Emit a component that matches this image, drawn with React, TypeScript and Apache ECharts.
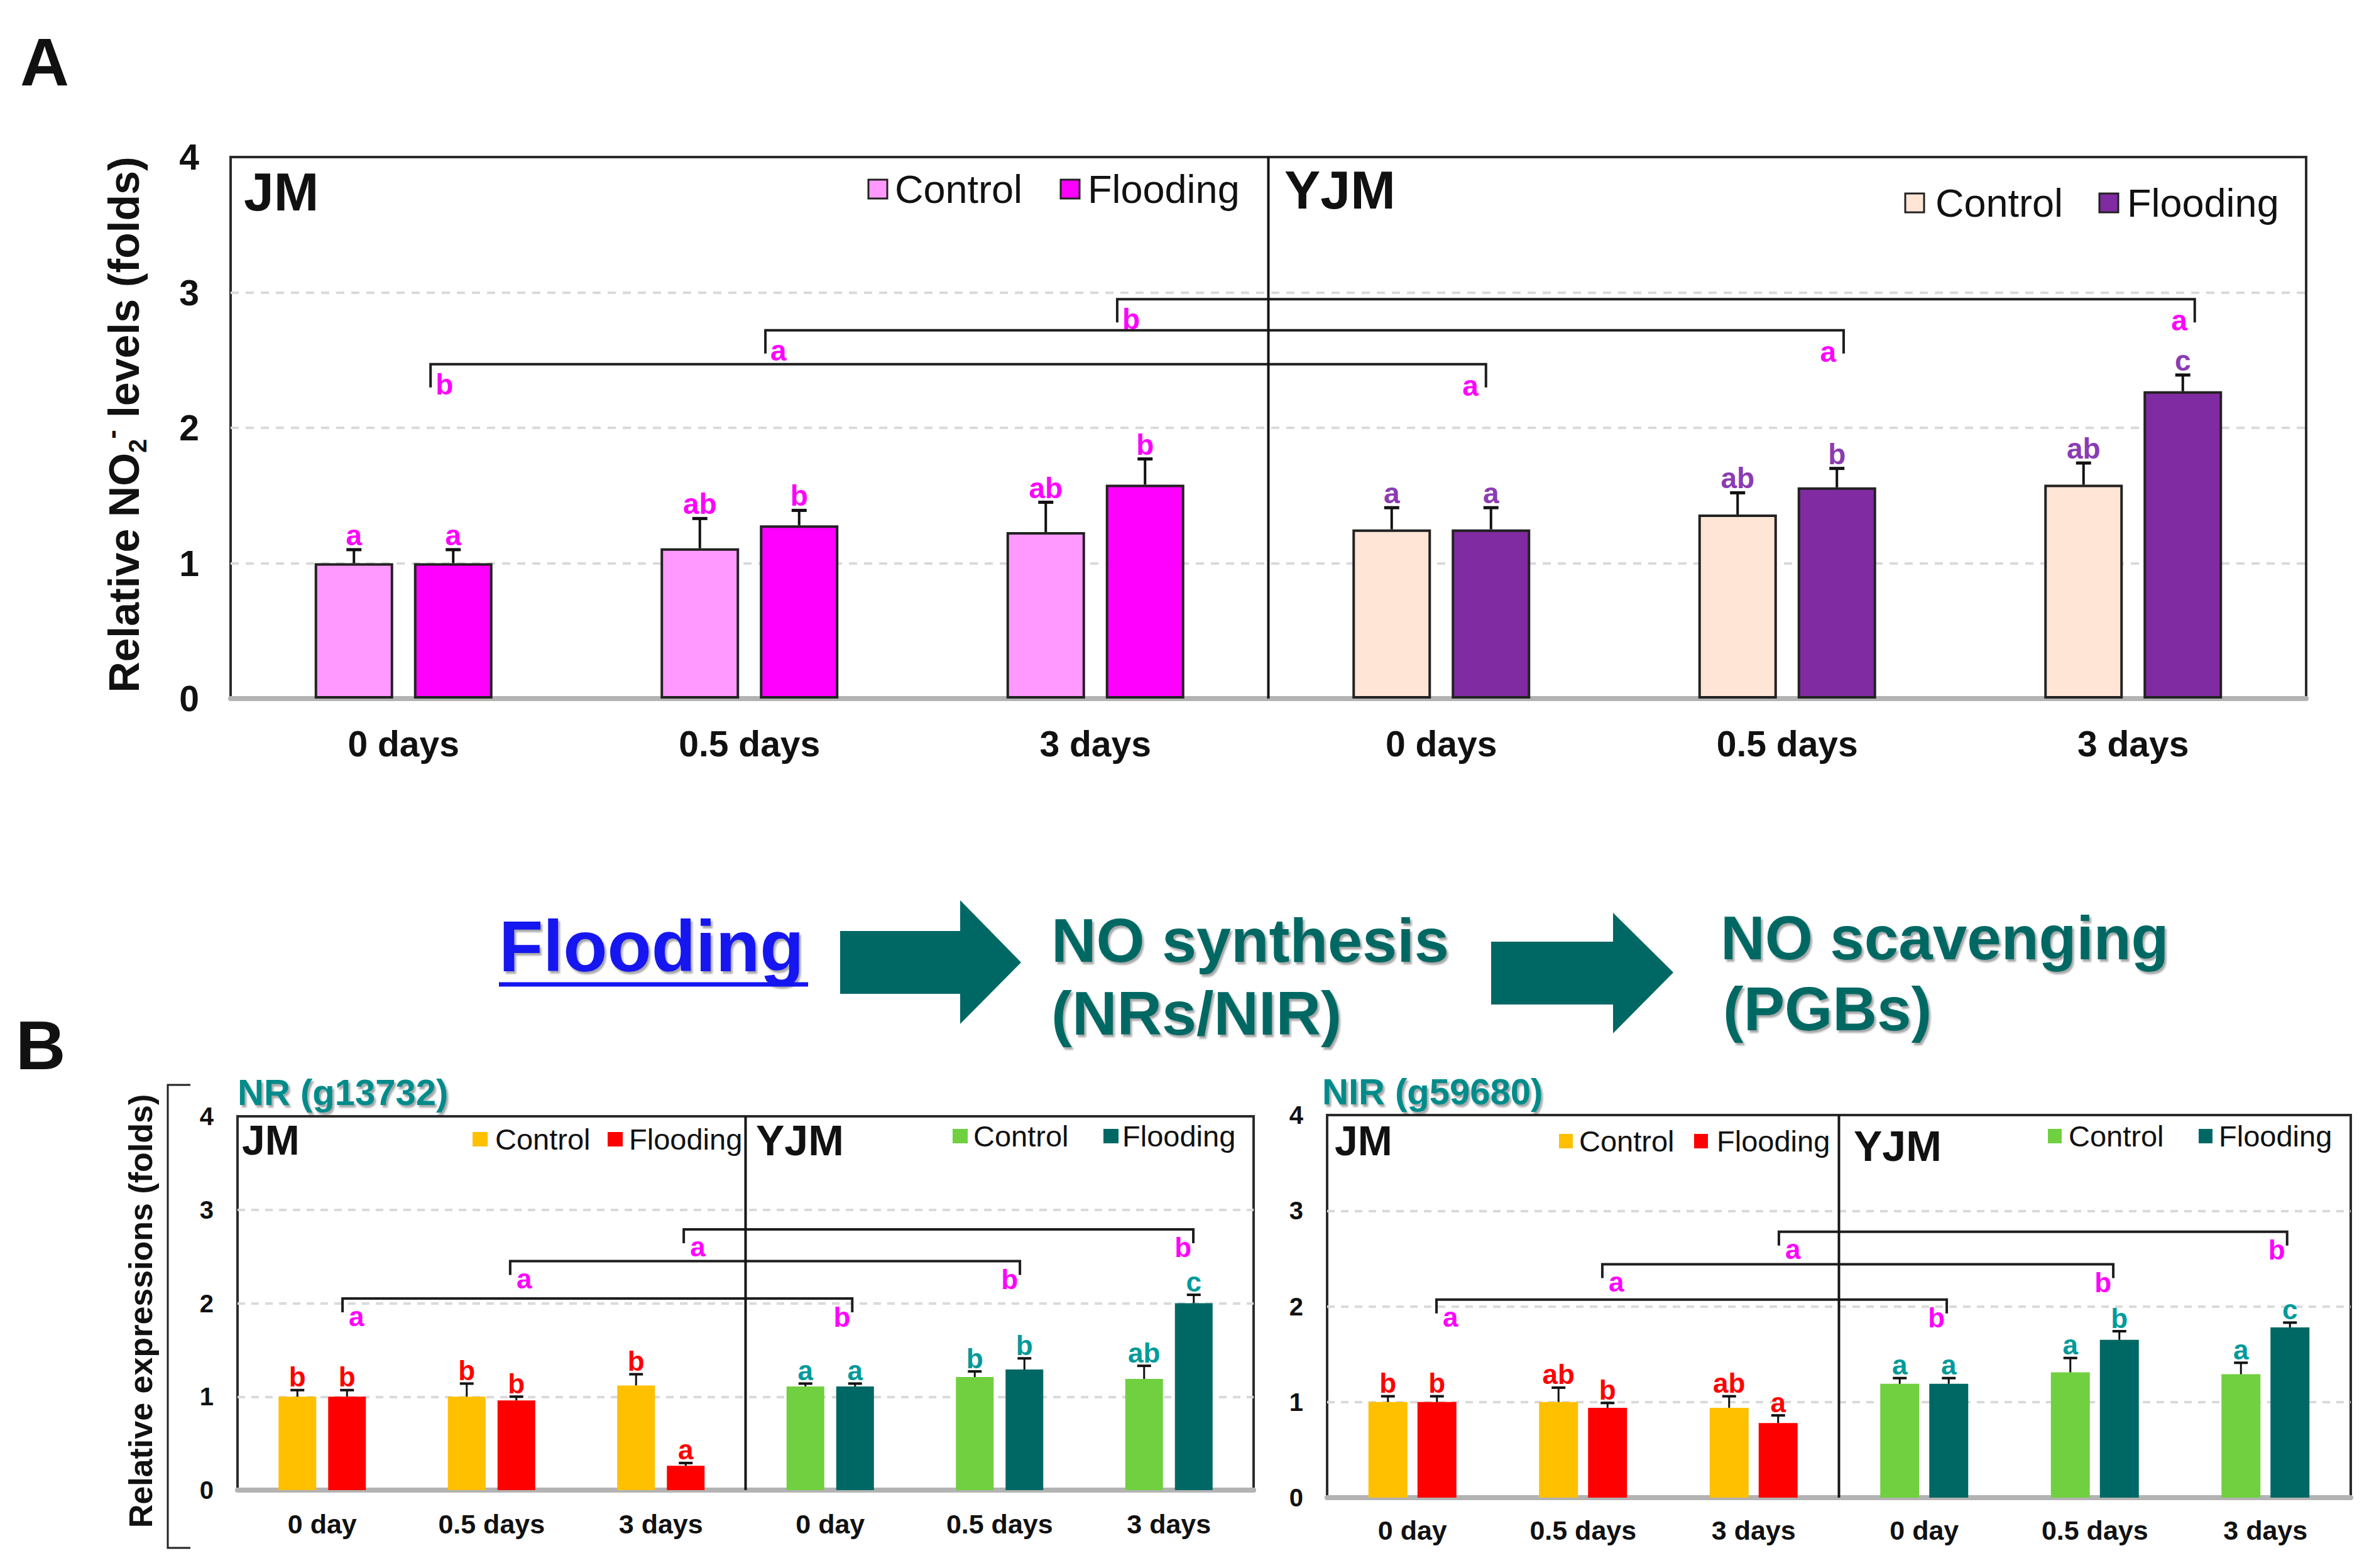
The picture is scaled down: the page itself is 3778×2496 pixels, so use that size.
import React, { useEffect, useRef } from "react";
import * as echarts from "echarts";

// ---------- data ----------
const catA = ["0 days", "0.5 days", "3 days", "0 days", "0.5 days", "3 days"];
const catB = ["0 day", "0.5 days", "3 days", "0 day", "0.5 days", "3 days"];

// Panel A: relative NO2- levels
const aControl = [1.0, 1.11, 1.23, 1.25, 1.36, 1.58];
const aControlErr = [0.1, 0.22, 0.22, 0.16, 0.16, 0.16];
const aFlood = [1.0, 1.28, 1.58, 1.25, 1.56, 2.27];
const aFloodErr = [0.1, 0.11, 0.19, 0.16, 0.14, 0.12];
const aControlLetters = ["a", "ab", "ab", "a", "ab", "ab"];
const aFloodLetters = ["a", "b", "b", "a", "b", "c"];
const aBracketFrom = [0.578, 1.546, 2.563];
const aBracketTo = [3.629, 4.663, 5.678];
const aBracketLevel = [2.47, 2.72, 2.95];
const aBracketLeft = ["b", "a", "b"];
const aBracketRight = ["a", "a", "a"];

// Panel B left: NR (g13732)
const nrControl = [1.0, 1.0, 1.12, 1.11, 1.21, 1.19];
const nrControlErr = [0.07, 0.14, 0.12, 0.03, 0.06, 0.14];
const nrFlood = [1.0, 0.96, 0.26, 1.11, 1.29, 2.0];
const nrFloodErr = [0.07, 0.04, 0.03, 0.03, 0.12, 0.09];
const nrControlLetters = ["b", "b", "b", "a", "b", "ab"];
const nrFloodLetters = ["b", "b", "a", "a", "b", "c"];
const nrBracketFrom = [0.62, 1.61, 2.635];
const nrBracketTo = [3.63, 4.62, 5.644];
const nrBracketLevel = [2.05, 2.45, 2.79];
const nrBracketLeft = ["a", "a", "a"];
const nrBracketRight = ["b", "b", "b"];

// Panel B right: NIR (g59680)
const nirControl = [1.0, 1.0, 0.94, 1.19, 1.31, 1.29];
const nirControlErr = [0.06, 0.15, 0.12, 0.06, 0.15, 0.12];
const nirFlood = [1.0, 0.94, 0.78, 1.19, 1.65, 1.78];
const nirFloodErr = [0.06, 0.05, 0.08, 0.06, 0.09, 0.05];
const nirControlLetters = ["b", "ab", "ab", "a", "a", "a"];
const nirFloodLetters = ["b", "b", "a", "a", "b", "c"];
const nirBracketFrom = [0.641, 1.613, 2.648];
const nirBracketTo = [3.632, 4.608, 5.627];
const nirBracketLevel = [2.07, 2.44, 2.78];
const nirBracketLeft = ["a", "a", "a"];
const nirBracketRight = ["b", "b", "b"];

const yTicks = [0, 4, 1]; // min, max, interval

// ---------- style ----------
const FONT = "'Liberation Sans', Arial, Helvetica, sans-serif";
const MAGENTA = "#ff00ff";
const TEAL_TXT = "#006864";

type PanelCfg = {
  grid: { left: number; top: number; width: number; height: number };
  cats: string[];
  control: number[];
  controlErr: number[];
  flood: number[];
  floodErr: number[];
  controlLetters: string[];
  floodLetters: string[];
  bFrom: number[];
  bTo: number[];
  bLevel: number[];
  bLeft: string[];
  bRight: string[];
  colors: { jmC: string; jmF: string; yjmC: string; yjmF: string };
  letterColors: { jm: string; yjm: string };
  barWidth: number;
  barGap: string;
  offset: number;
  barBorder: number;
  cap: number;
  errLw: number;
  letterFont: number;
  letterDy: number;
  drop: number;
  bracketLw: number;
  bl: { lx: number; ly: number; rx: number; ry: number };
  tickFont: number;
  tickMargin: number;
  catFont: number;
  catMargin: number;
  dash: number[];
  splitW: number;
};

function buildPanel(p: PanelCfg, idx: number) {
  const xCat = idx * 2;
  const xVal = idx * 2 + 1;
  const grid = { ...p.grid, show: true, borderColor: "#2b2b2b", borderWidth: 4, backgroundColor: "transparent", containLabel: false };
  const xAxes = [
    {
      type: "category",
      gridIndex: idx,
      data: p.cats,
      axisTick: { show: false },
      axisLine: { show: true, lineStyle: { color: "#b3b3b3", width: 8 } },
      axisLabel: { interval: 0, fontSize: p.catFont, fontWeight: "bold", color: "#111", fontFamily: FONT, margin: p.catMargin },
      splitLine: { show: false },
    },
    { type: "value", gridIndex: idx, min: 0, max: 6, show: false },
  ];
  const yAxis = {
    type: "value",
    gridIndex: idx,
    min: yTicks[0],
    max: yTicks[1],
    interval: yTicks[2],
    axisLine: { show: false },
    axisTick: { show: false },
    axisLabel: { fontSize: p.tickFont, fontWeight: "bold", color: "#111", fontFamily: FONT, margin: p.tickMargin },
    splitLine: { show: true, showMinLine: false, showMaxLine: false, lineStyle: { type: p.dash, color: "#dadada", width: p.splitW } },
  };
  const colC = (i: number) => (i < 3 ? p.colors.jmC : p.colors.yjmC);
  const colF = (i: number) => (i < 3 ? p.colors.jmF : p.colors.yjmF);
  const letterCol = (i: number) => (i < 3 ? p.letterColors.jm : p.letterColors.yjm);
  const barBorder = p.barBorder > 0 ? { borderColor: "#222", borderWidth: p.barBorder } : {};
  const errSeries = (vals: number[], errs: number[], letters: string[], sign: number) => ({
    type: "custom",
    xAxisIndex: xCat,
    yAxisIndex: idx,
    z: 5,
    data: vals.map((v, i) => [i, v, errs[i]]),
    renderItem: (params: any, api: any) => {
      const i = api.value(0);
      const v = api.value(1);
      const e = api.value(2);
      const base = api.coord([i, v]);
      const top = api.coord([i, v + e]);
      const x = base[0] + sign * p.offset;
      return {
        type: "group",
        children: [
          { type: "line", shape: { x1: x, y1: base[1], x2: x, y2: top[1] }, style: { stroke: "#111", lineWidth: p.errLw } },
          { type: "line", shape: { x1: x - p.cap / 2, y1: top[1], x2: x + p.cap / 2, y2: top[1] }, style: { stroke: "#111", lineWidth: p.errLw + 1 } },
          {
            type: "text",
            x,
            y: top[1] - p.letterDy,
            style: {
              text: letters[params.dataIndex],
              fill: letterCol(params.dataIndex),
              fontSize: p.letterFont,
              fontWeight: "bold",
              fontFamily: FONT,
              textAlign: "center",
              align: "center",
              textVerticalAlign: "middle",
              verticalAlign: "middle",
            },
          },
        ],
      };
    },
  });
  const series: any[] = [
    {
      type: "bar",
      name: "Control",
      xAxisIndex: xCat,
      yAxisIndex: idx,
      data: p.control,
      barWidth: p.barWidth,
      barGap: p.barGap,
      itemStyle: { color: (q: any) => colC(q.dataIndex), ...barBorder },
      z: 3,
    },
    {
      type: "bar",
      name: "Flooding",
      xAxisIndex: xCat,
      yAxisIndex: idx,
      data: p.flood,
      barWidth: p.barWidth,
      barGap: p.barGap,
      itemStyle: { color: (q: any) => colF(q.dataIndex), ...barBorder },
      z: 3,
    },
    errSeries(p.control, p.controlErr, p.controlLetters, -1),
    errSeries(p.flood, p.floodErr, p.floodLetters, 1),
    {
      type: "line",
      xAxisIndex: xVal,
      yAxisIndex: idx,
      data: [
        [3, yTicks[0]],
        [3, yTicks[1]],
      ],
      symbol: "none",
      lineStyle: { color: "#151515", width: 4 },
      z: 6,
      silent: true,
    },
    {
      type: "custom",
      xAxisIndex: xVal,
      yAxisIndex: idx,
      z: 6,
      data: p.bFrom.map((f, i) => [f, p.bTo[i], p.bLevel[i]]),
      encode: { x: [0, 1], y: 2 },
      renderItem: (params: any, api: any) => {
        const a = api.coord([api.value(0), api.value(2)]);
        const b = api.coord([api.value(1), api.value(2)]);
        const k = params.dataIndex;
        const txt = (t: string, x: number, y: number, al: string) => ({
          type: "text",
          x,
          y,
          style: {
            text: t,
            fill: MAGENTA,
            fontSize: p.letterFont,
            fontWeight: "bold",
            fontFamily: FONT,
            textAlign: al,
            align: al,
            textVerticalAlign: "middle",
            verticalAlign: "middle",
          },
        });
        return {
          type: "group",
          children: [
            {
              type: "polyline",
              shape: {
                points: [
                  [a[0], a[1] + p.drop],
                  [a[0], a[1]],
                  [b[0], b[1]],
                  [b[0], b[1] + p.drop],
                ],
              },
              style: { stroke: "#1e1e1e", lineWidth: p.bracketLw, fill: null },
            },
            txt(p.bLeft[k], a[0] + p.bl.lx, a[1] + p.bl.ly, "left"),
            txt(p.bRight[k], b[0] + p.bl.rx, b[1] + p.bl.ry, "right"),
          ],
        };
      },
    },
  ];
  return { grid, xAxes, yAxis, series };
}

const panelA: PanelCfg = {
  grid: { left: 367, top: 250, width: 3303, height: 862 },
  cats: catA,
  control: aControl,
  controlErr: aControlErr,
  flood: aFlood,
  floodErr: aFloodErr,
  controlLetters: aControlLetters,
  floodLetters: aFloodLetters,
  bFrom: aBracketFrom,
  bTo: aBracketTo,
  bLevel: aBracketLevel,
  bLeft: aBracketLeft,
  bRight: aBracketRight,
  colors: { jmC: "#ff99ff", jmF: "#ff00ff", yjmC: "#ffe5d6", yjmF: "#802ba1" },
  letterColors: { jm: MAGENTA, yjm: "#8a3cb4" },
  barWidth: 125,
  barGap: "26.4%",
  offset: 79,
  barBorder: 4,
  cap: 24,
  errLw: 4,
  letterFont: 46,
  letterDy: 23,
  drop: 37,
  bracketLw: 4,
  bl: { lx: 8, ly: 32, rx: -12, ry: 34 },
  tickFont: 57,
  tickMargin: 50,
  catFont: 57,
  catMargin: 43,
  dash: [13, 11],
  splitW: 4,
};

const panelNR: PanelCfg = {
  grid: { left: 378, top: 1777, width: 1617, height: 595 },
  cats: catB,
  control: nrControl,
  controlErr: nrControlErr,
  flood: nrFlood,
  floodErr: nrFloodErr,
  controlLetters: nrControlLetters,
  floodLetters: nrFloodLetters,
  bFrom: nrBracketFrom,
  bTo: nrBracketTo,
  bLevel: nrBracketLevel,
  bLeft: nrBracketLeft,
  bRight: nrBracketRight,
  colors: { jmC: "#ffc000", jmF: "#ff0000", yjmC: "#70d040", yjmF: "#006864" },
  letterColors: { jm: "#ff0000", yjm: "#009a9a" },
  barWidth: 60,
  barGap: "31.7%",
  offset: 39.5,
  barBorder: 0,
  cap: 22,
  errLw: 3,
  letterFont: 44,
  letterDy: 21,
  drop: 22,
  bracketLw: 4,
  bl: { lx: 10, ly: 28, rx: -3, ry: 29 },
  tickFont: 40,
  tickMargin: 38,
  catFont: 43,
  catMargin: 32,
  dash: [12, 10],
  splitW: 4,
};

const panelNIR: PanelCfg = {
  ...panelNR,
  grid: { left: 2112, top: 1775, width: 1629, height: 609 },
  control: nirControl,
  controlErr: nirControlErr,
  flood: nirFlood,
  floodErr: nirFloodErr,
  controlLetters: nirControlLetters,
  floodLetters: nirFloodLetters,
  bFrom: nirBracketFrom,
  bTo: nirBracketTo,
  bLevel: nirBracketLevel,
  bLeft: nirBracketLeft,
  bRight: nirBracketRight,
  barWidth: 62,
  barGap: "25.8%",
  offset: 39,
  catMargin: 30,
};

// ---------- graphics helpers ----------
function txt(text: string, x: number, y: number, size: number, opts: any = {}) {
  return {
    type: "text",
    x,
    y,
    z: 100,
    rotation: opts.rotation || 0,
    style: {
      text,
      fill: opts.fill || "#111",
      fontSize: size,
      fontWeight: opts.weight || "bold",
      fontFamily: FONT,
      textAlign: opts.align || "left",
      align: opts.align || "left",
      textVerticalAlign: "middle",
      verticalAlign: "middle",
      rich: opts.rich,
      textShadowColor: opts.shadow ? "rgba(0,0,0,0.35)" : undefined,
      textShadowBlur: opts.shadow ? 3 : undefined,
      textShadowOffsetX: opts.shadow ? 3 : undefined,
      textShadowOffsetY: opts.shadow ? 4 : undefined,
    },
  };
}

function legendBox(x: number, y: number, w: number, h: number, fill: string, border: boolean) {
  return {
    type: "rect",
    z: 100,
    shape: { x, y, width: w, height: h },
    style: { fill, stroke: border ? "#222" : null, lineWidth: border ? 3 : 0 },
  };
}

function arrow(pts: number[][]) {
  return { type: "polygon", z: 100, shape: { points: pts }, style: { fill: "#006864" } };
}

export default function App() {
  const ref = useRef<HTMLDivElement>(null);
  useEffect(() => {
    if (!ref.current) return;
    const chart = echarts.init(ref.current, undefined, { renderer: "svg" });
    const panels = [panelA, panelNR, panelNIR].map((p, i) => buildPanel(p, i));
    const graphic: any[] = [
      txt("A", 32, 98, 108),
      txt("B", 25, 1663, 110),
      // Y titles
      txt("Relative NO{sub|2}{sup|-} levels (folds)", 197, 676, 68, {
        align: "center",
        rotation: Math.PI / 2,
        rich: {
          sub: { fontSize: 40, fontWeight: "bold", fontFamily: FONT, fill: "#111", verticalAlign: "bottom", lineHeight: 84 },
          sup: { fontSize: 44, fontWeight: "bold", fontFamily: FONT, fill: "#111", verticalAlign: "top", lineHeight: 84 },
        },
      }),
      txt("Relative expressions (folds)", 224, 2087, 52, { align: "center", rotation: Math.PI / 2 }),
      {
        type: "polyline",
        z: 100,
        shape: { points: [[303, 1727], [267, 1727], [267, 2464], [303, 2464]] },
        style: { stroke: "#222", lineWidth: 3, fill: null },
      },
      // Panel A labels & legends
      txt("JM", 388, 305, 86),
      txt("YJM", 2044, 302, 86),
      legendBox(1382, 286, 30, 30, "#ff99ff", true),
      txt("Control", 1424, 301, 63, { weight: "normal" }),
      legendBox(1688, 286, 30, 30, "#ff00ff", true),
      txt("Flooding", 1731, 301, 63, { weight: "normal" }),
      legendBox(3032, 308, 30, 30, "#ffe5d6", true),
      txt("Control", 3080, 323, 63, { weight: "normal" }),
      legendBox(3341, 308, 30, 30, "#802ba1", true),
      txt("Flooding", 3385, 323, 63, { weight: "normal" }),
      // Middle flow
      txt("Flooding", 794, 1506, 115, { fill: "#1515f0", shadow: true }),
      { type: "line", z: 100, shape: { x1: 794, y1: 1567, x2: 1286, y2: 1567 }, style: { stroke: "#1515f0", lineWidth: 7 } },
      arrow([[1337, 1482], [1528, 1482], [1528, 1433], [1625, 1532], [1528, 1630], [1528, 1582], [1337, 1582]]),
      txt("NO synthesis", 1673, 1496, 99, { fill: TEAL_TXT, shadow: true }),
      txt("(NRs/NIR)", 1673, 1612, 99, { fill: TEAL_TXT, shadow: true }),
      arrow([[2373, 1499], [2567, 1499], [2567, 1453], [2663, 1548], [2567, 1645], [2567, 1599], [2373, 1599]]),
      txt("NO scavenging", 2738, 1493, 98, { fill: TEAL_TXT, shadow: true }),
      txt("(PGBs)", 2742, 1606, 98, { fill: TEAL_TXT, shadow: true }),
      // Panel B titles
      txt("NR (g13732)", 378, 1738, 58, { fill: "#008b8b", shadow: true }),
      txt("NIR (g59680)", 2104, 1737, 58, { fill: "#008b8b", shadow: true }),
      // NR labels & legend
      txt("JM", 385, 1815, 66),
      txt("YJM", 1203, 1815, 68),
      legendBox(752, 1802, 24, 23, "#ffc000", false),
      txt("Control", 788, 1813, 47, { weight: "normal" }),
      legendBox(967, 1802, 24, 23, "#ff0000", false),
      txt("Flooding", 1001, 1813, 47, { weight: "normal" }),
      legendBox(1516, 1797, 24, 23, "#70d040", false),
      txt("Control", 1549, 1808, 47, { weight: "normal" }),
      legendBox(1756, 1797, 24, 23, "#006864", false),
      txt("Flooding", 1786, 1808, 47, { weight: "normal" }),
      // NIR labels & legend
      txt("JM", 2124, 1816, 66),
      txt("YJM", 2950, 1824, 68),
      legendBox(2481, 1805, 22, 23, "#ffc000", false),
      txt("Control", 2513, 1816, 47, { weight: "normal" }),
      legendBox(2696, 1805, 22, 23, "#ff0000", false),
      txt("Flooding", 2732, 1816, 47, { weight: "normal" }),
      legendBox(3259, 1797, 22, 23, "#70d040", false),
      txt("Control", 3292, 1808, 47, { weight: "normal" }),
      legendBox(3499, 1797, 22, 23, "#006864", false),
      txt("Flooding", 3531, 1808, 47, { weight: "normal" }),
    ];
    chart.setOption({
      animation: false,
      backgroundColor: "#ffffff",
      textStyle: { fontFamily: FONT },
      grid: panels.map((p) => p.grid),
      xAxis: panels.flatMap((p) => p.xAxes),
      yAxis: panels.map((p) => p.yAxis),
      series: panels.flatMap((p) => p.series),
      graphic,
    });
    return () => chart.dispose();
  }, []);
  return <div ref={ref} style={{ position: "absolute", left: 0, top: 0, width: 3778, height: 2496, background: "#fff" }} />;
}
